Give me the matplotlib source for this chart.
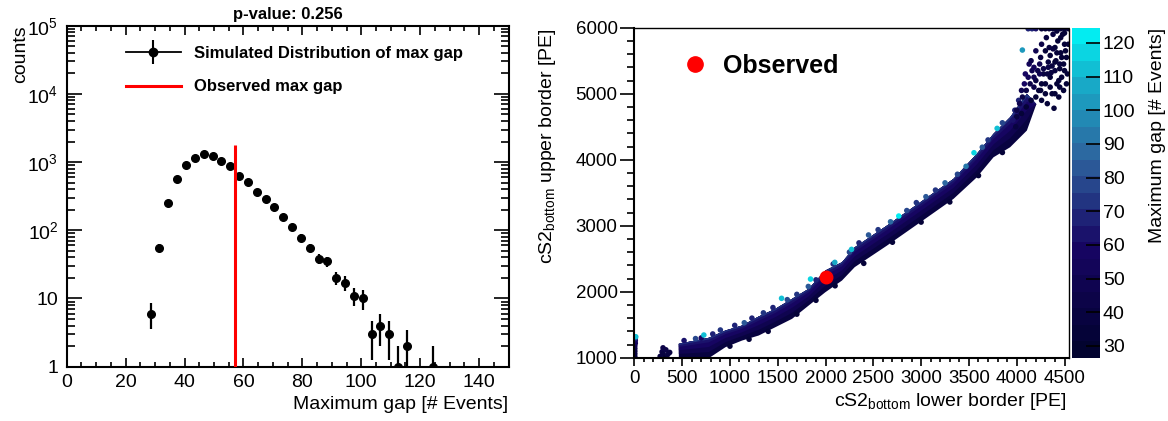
import numpy as np
import matplotlib
matplotlib.use("Agg")
import matplotlib.pyplot as plt
from matplotlib.colors import LinearSegmentedColormap, ListedColormap, Normalize
from matplotlib.lines import Line2D
from matplotlib.legend_handler import HandlerTuple
from matplotlib.ticker import MultipleLocator, LogLocator, FixedLocator, FixedFormatter, NullFormatter

plt.rcParams['font.family'] = ['Liberation Sans', 'DejaVu Sans']
plt.rcParams['mathtext.fontset'] = 'custom'
plt.rcParams['mathtext.rm'] = 'Liberation Sans'
plt.rcParams['mathtext.it'] = 'Liberation Sans:italic'
plt.rcParams['mathtext.bf'] = 'Liberation Sans:bold'

# ---------------- simulated max-gap distribution (bin width 3) ----------------
gap_centers = [28.5, 31.5, 34.5, 37.5, 40.5, 43.5, 46.5, 49.5, 52.5, 55.5,
               58.5, 61.5, 64.5, 67.5, 70.5, 73.5, 76.5, 79.5, 82.5, 85.5,
               88.5, 91.5, 94.5, 97.5, 100.5, 103.5, 106.5, 109.5, 112.5, 115.5,
               124.5]
gap_counts = [6, 55, 248, 560, 915, 1160, 1300, 1245, 1030, 875,
              630, 505, 365, 285, 217, 155, 113, 78, 55, 38,
              35, 20, 17, 11, 10, 3, 4, 3, 1, 2,
              1]
observed_gap = 57
observed_line_top = 1780
p_value = 0.256

# ---------------- max gap over (lower, upper) border scan ----------------
# dense band of scan points: lower border vs. range of upper borders
band_x  = [460, 773, 948, 1122, 1296, 1470, 1645, 1818, 1993, 2167, 2300, 2638, 2986, 3334, 3578, 3752, 3926, 4101, 4200]
band_lo = [1000, 1000, 1167, 1268, 1344, 1470, 1597, 1798, 2000, 2177, 2380, 2707, 3060, 3415, 3742, 4045, 4197, 4450, 4850]
band_hi = [1218, 1309, 1420, 1495, 1632, 1748, 1900, 2051, 2329, 2454, 2680, 3010, 3363, 3718, 4097, 4400, 4651, 5006, 4850]
# max gap shading across the band, bottom edge -> top edge
band_levels = [(0.00, 40), (0.30, 50), (0.55, 57), (0.78, 65), (0.92, 74)]

# isolated scan points: lower border, upper border, max gap
edge_lower = [5, 5, 5, 5, 5, 10, 10, 10, 15,
              270, 290, 300, 320, 330, 350, 370, 300,
              520, 640, 700, 820, 900, 1050, 1150, 1230, 1350, 1450, 1600, 1700,
              1820, 1900, 2080, 2250, 2350, 2450, 2550, 2680, 2850, 2950, 3050,
              3150, 3250, 3380, 3470, 3640, 3700, 3850, 3980, 4020,
              727, 1540, 1843, 2097, 2272, 2766, 3553, 3795, 4059,
              1000, 1200, 1400, 1700, 1900, 2100, 2400, 2700, 3000, 3300, 3600, 3850]
edge_upper = [1020, 1060, 1100, 1140, 1180, 1220, 1260, 1290, 1318,
              1020, 1090, 1060, 1000, 1120, 1050, 1080, 1150,
              1260, 1290, 1300, 1360, 1420, 1490, 1530, 1600, 1680, 1760, 1880, 1960,
              2080, 2180, 2420, 2600, 2740, 2860, 2940, 3060, 3230, 3350, 3440,
              3540, 3650, 3780, 3900, 4190, 4300, 4560, 4750, 4900,
              1344, 1900, 2192, 2445, 2642, 3147, 4106, 4475, 5662,
              1175, 1280, 1400, 1660, 1870, 2090, 2430, 2750, 3055, 3360, 3760, 4110]
edge_gap = [40, 40, 40, 45, 50, 55, 60, 70, 110,
            40, 45, 40, 35, 45, 40, 40, 45,
            62, 78, 60, 66, 75, 70, 84, 66, 75, 70, 80, 75,
            84, 70, 75, 80, 70, 84, 75, 88, 80, 75, 84,
            75, 88, 80, 92, 84, 75, 78, 70, 66,
            112, 110, 115, 108, 112, 120, 118, 110, 100,
            32, 32, 32, 32, 32, 32, 32, 32, 32, 32, 32, 32]

# sparse cloud at the largest borders
cloud_lower = [4200, 4230, 4260, 4280, 4300, 4320, 4330, 4350, 4370, 4390, 4400, 4420,
               4440, 4450, 4470, 4490, 4500, 4520, 4160, 4120, 4080, 4050, 4130, 4180,
               4150, 4250, 4300, 4350, 4400, 4430, 4460, 4480, 4500, 4520, 4380, 4420,
               4260, 4200, 4330, 4370, 4410, 4450, 4490, 4530, 4280, 4240, 4360, 4440,
               4470, 4510, 4400, 4340, 4310, 4460, 4500, 4540, 4420, 4380,
               4000, 4030, 4060, 4100, 4140, 4180, 4220, 4100, 4150, 4200, 4250, 4300,
               4350, 4400, 4450, 4000, 4050, 4260, 4320, 4240, 4180, 4090, 3960, 3990,
               4120, 4160, 4200, 4260, 4300, 4340, 4380, 4420, 4460, 4500, 4540]
cloud_upper = [5200, 5050, 4900, 5300, 5150, 4850, 5400, 5250, 5000, 4780, 5350, 5150,
               4950, 5450, 5250, 5050, 5350, 5150, 5350, 5250, 5150, 5050, 5450, 5100,
               5500, 5550, 5650, 5580, 5700, 5800, 5620, 5900, 5750, 5550, 5900, 5950,
               5750, 5650, 5480, 5420, 5500, 5380, 5450, 5300, 5380, 5300, 5320, 5200,
               5550, 5650, 5480, 5700, 5850, 5850, 5920, 5750, 5620, 5680,
               4750, 4850, 4950, 5050, 5150, 5250, 5350, 4800, 4900, 4950, 5050, 5000,
               5100, 5000, 5100, 4650, 4700, 5150, 5300, 5450, 5400, 5300, 4600, 4500,
               5985, 5985, 5985, 5985, 5985, 5985, 5985, 5985, 5985, 5985, 5985]
cloud_gap = [40, 35, 35, 40, 35, 35, 45, 35, 35, 35, 40, 35,
             35, 40, 35, 35, 35, 35, 50, 55, 60, 50, 55, 45,
             45, 40, 35, 35, 35, 35, 35, 35, 35, 35, 40, 35,
             45, 50, 40, 40, 35, 35, 35, 35, 45, 50, 40, 35,
             35, 35, 35, 40, 40, 35, 35, 35, 35, 40,
             45, 50, 45, 45, 45, 50, 45, 35, 35, 35, 35, 35,
             35, 35, 35, 40, 35, 35, 40, 50, 55, 60, 65, 40,
             70, 70, 65, 35, 35, 35, 35, 35, 35, 35, 35]

observed_lower = 2010
observed_upper = 2220

gap_min, gap_max = 26.5, 124.5

# Deep-sea palette in 20 discrete steps
_stops = [0.00, 0.34, 0.61, 0.84, 1.00]
_r = [0.00, 0.09, 0.18, 0.09, 0.00]
_g = [0.01, 0.02, 0.39, 0.68, 0.97]
_b = [0.17, 0.39, 0.62, 0.79, 0.97]
_cont = LinearSegmentedColormap('deepsea', {
    'red':   [(s, v, v) for s, v in zip(_stops, _r)],
    'green': [(s, v, v) for s, v in zip(_stops, _g)],
    'blue':  [(s, v, v) for s, v in zip(_stops, _b)],
})
n_levels = 20
cmap = ListedColormap(_cont((np.arange(n_levels) + 0.5) / n_levels))
norm = Normalize(vmin=gap_min, vmax=gap_max)

fig = plt.figure(figsize=(11.68, 4.21), dpi=100)

# ================= left panel =================
ax1 = fig.add_axes([0.0571, 0.129, 0.3783, 0.810])
counts = np.array(gap_counts, dtype=float)
err = np.sqrt(counts)
err_lo = np.minimum(err, counts * 0.9999)
ax1.errorbar(gap_centers, counts, yerr=[err_lo, err], fmt='o', color='black',
             ms=5.5, elinewidth=1.6, capsize=0, zorder=3)
ax1.vlines(observed_gap, 1, observed_line_top, color='red', lw=2.2, zorder=4)

ax1.set_yscale('log')
ax1.set_xlim(0, 150)
ax1.set_ylim(1, 1e5)
ax1.xaxis.set_major_locator(MultipleLocator(20))
ax1.xaxis.set_minor_locator(MultipleLocator(5))
ax1.yaxis.set_major_locator(FixedLocator([1, 10, 100, 1000, 1e4, 1e5]))
ax1.yaxis.set_major_formatter(FixedFormatter(['1', '10', r'$10^{2}$', r'$10^{3}$', r'$10^{4}$', r'$10^{5}$']))
ax1.yaxis.set_minor_locator(LogLocator(base=10, subs=np.arange(2, 10), numticks=20))
ax1.yaxis.set_minor_formatter(NullFormatter())
ax1.tick_params(which='both', direction='in', top=True, right=True, labelsize=14, width=1.2)
ax1.tick_params(axis='y', which='major', length=11, pad=6)
ax1.tick_params(axis='y', which='minor', length=5.5)
ax1.tick_params(axis='x', which='major', length=6.5, pad=5)
ax1.tick_params(axis='x', which='minor', length=3.5)
for sp in ax1.spines.values():
    sp.set_linewidth(1.5)

ax1.set_title(f'p-value: {p_value}', fontsize=12, fontweight='bold', pad=5)
ax1.set_xlabel('Maximum gap [# Events]', fontsize=14, loc='right')
ax1.xaxis.set_label_coords(1.0, -0.085)
ax1.set_ylabel('counts', fontsize=14, loc='top')
ax1.yaxis.set_label_coords(-0.085, 1.0)

h_sim = (Line2D([], [], color='black', lw=1.3, marker='o', ms=6),
         Line2D([], [], color='black', ls='none', marker='|', ms=17, mew=1.5))
h_obs = Line2D([], [], color='red', lw=2.2)
ax1.legend([h_sim, h_obs], ['Simulated Distribution of max gap', 'Observed max gap'],
           handler_map={tuple: HandlerTuple(ndivide=1)},
           loc='upper left', bbox_to_anchor=(0.134, 0.94), frameon=False,
           prop={'weight': 'bold', 'size': 12}, handlelength=3.3,
           handletextpad=0.8, labelspacing=1.1, borderpad=0, borderaxespad=0)

# ================= right panel =================
ax2 = fig.add_axes([0.5431, 0.1503, 0.3724, 0.7838])
lo = np.array(band_lo, dtype=float)
hi = np.array(band_hi, dtype=float)
for frac, gval in band_levels:
    ax2.fill_between(band_x, lo + frac * (hi - lo), hi, color=cmap(norm(gval)), lw=0, zorder=1)
ax2.scatter(edge_lower, edge_upper, c=edge_gap, cmap=cmap, norm=norm, s=16, lw=0, zorder=2)
sc = ax2.scatter(cloud_lower, cloud_upper, c=cloud_gap, cmap=cmap, norm=norm, s=16, lw=0, zorder=2)
ax2.plot([observed_lower], [observed_upper], 'o', color='red', ms=9, zorder=5)

ax2.set_xlim(0, 4550)
ax2.set_ylim(1000, 6000)
ax2.xaxis.set_major_locator(MultipleLocator(500))
ax2.xaxis.set_minor_locator(MultipleLocator(100))
ax2.yaxis.set_major_locator(MultipleLocator(1000))
ax2.yaxis.set_minor_locator(MultipleLocator(200))
ax2.tick_params(which='both', direction='out', labelsize=13.5, width=1.2)
ax2.tick_params(axis='y', which='major', length=10, pad=2)
ax2.tick_params(axis='y', which='minor', length=5)
ax2.tick_params(axis='x', which='major', length=6, pad=3)
ax2.tick_params(axis='x', which='minor', length=3)
ax2.spines['left'].set_linewidth(1.5)
ax2.spines['bottom'].set_linewidth(1.5)
for side in ('top', 'right'):
    ax2.spines[side].set_linestyle((0, (1, 1)))
    ax2.spines[side].set_linewidth(1.0)

ax2.set_xlabel(r'cS2$_{\mathrm{bottom}}$ lower border [PE]', fontsize=14, loc='right')
ax2.xaxis.set_label_coords(0.995, -0.1)
ax2.set_ylabel(r'cS2$_{\mathrm{bottom}}$ upper border [PE]', fontsize=14, loc='top')
ax2.yaxis.set_label_coords(-0.175, 1.0)

ax2.legend([Line2D([], [], ls='none', marker='o', color='red', ms=11)], ['Observed'],
           loc='upper left', bbox_to_anchor=(0.097, 0.92), frameon=False,
           prop={'weight': 'bold', 'size': 18}, handlelength=1.5,
           handletextpad=0.35, borderpad=0, borderaxespad=0)

cax = fig.add_axes([0.9176, 0.1503, 0.0242, 0.7838])
cb = fig.colorbar(sc, cax=cax)
cb.outline.set_visible(False)
cb.set_ticks(np.arange(30, 121, 10))
cax.tick_params(direction='in', length=10, width=1.2, labelsize=14, pad=2)
cax.set_ylabel('Maximum gap [# Events]', fontsize=14, loc='top')
cax.yaxis.set_label_coords(2.75, 1.0)

fig.savefig('out.png', dpi=100)
